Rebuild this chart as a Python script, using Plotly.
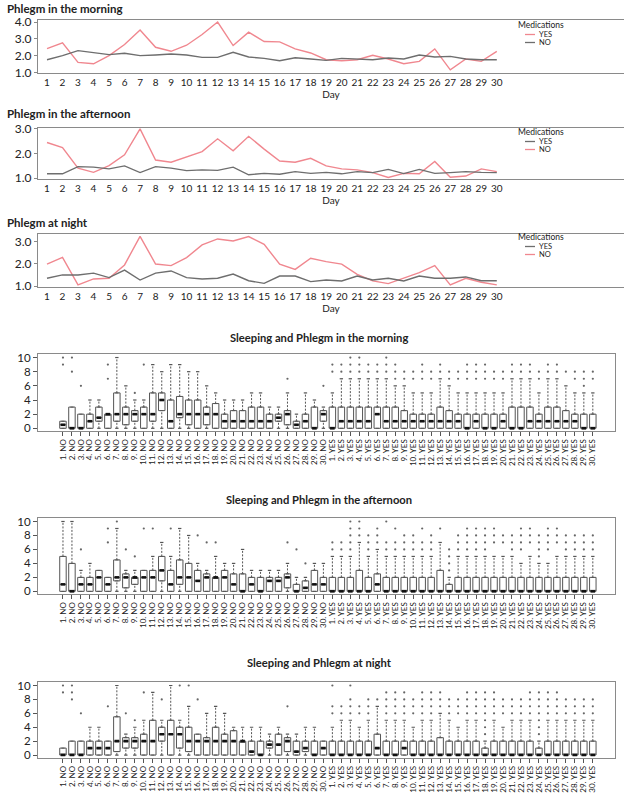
import plotly.graph_objects as go

W, H = 624, 800
FONT = "Lato"
TXT = "#222222"
PINK = "#F0878F"
GRAY = "#6E6E6E"
FRAME = "#8A8A8A"

# ---------------- line-chart data ----------------
days = list(range(1, 31))

morning_yes = [2.42, 2.76, 1.6, 1.52, 2.0, 2.66, 3.52, 2.5, 2.26, 2.62, 3.26, 4.0, 2.6, 3.4, 2.84,
               2.82, 2.4, 2.16, 1.76, 1.7, 1.76, 2.02, 1.8, 1.52, 1.66, 2.4, 1.16, 1.8, 1.66, 2.26]
morning_no = [1.76, 2.0, 2.3, 2.2, 2.06, 2.14, 2.0, 2.04, 2.1, 2.04, 1.9, 1.9, 2.2, 1.92, 1.84,
              1.7, 1.88, 1.8, 1.72, 1.84, 1.8, 1.76, 1.86, 1.8, 2.04, 1.92, 1.96, 1.8, 1.76, 1.76]

afternoon_no = [2.45, 2.24, 1.41, 1.24, 1.51, 1.95, 3.0, 1.74, 1.65, 1.88, 2.08, 2.6, 2.11, 2.7, 2.18,
                1.7, 1.65, 1.81, 1.5, 1.38, 1.34, 1.23, 1.03, 1.2, 1.18, 1.68, 1.04, 1.09, 1.38, 1.27]
afternoon_yes = [1.18, 1.18, 1.47, 1.45, 1.38, 1.5, 1.23, 1.47, 1.41, 1.31, 1.34, 1.32, 1.45, 1.14, 1.2,
                 1.16, 1.27, 1.2, 1.24, 1.18, 1.27, 1.23, 1.36, 1.19, 1.36, 1.2, 1.23, 1.27, 1.24, 1.23]

night_no = [1.99, 2.29, 1.05, 1.32, 1.35, 1.95, 3.24, 1.99, 1.92, 2.28, 2.85, 3.12, 3.03, 3.23, 2.88,
            1.98, 1.75, 2.25, 2.1, 1.99, 1.53, 1.23, 1.11, 1.35, 1.6, 1.92, 1.05, 1.35, 1.17, 1.05]
night_yes = [1.35, 1.5, 1.5, 1.58, 1.38, 1.72, 1.27, 1.58, 1.68, 1.38, 1.32, 1.35, 1.54, 1.24, 1.12,
             1.45, 1.45, 1.2, 1.27, 1.23, 1.45, 1.27, 1.35, 1.23, 1.45, 1.35, 1.35, 1.41, 1.24, 1.24]

# ---------------- box-plot data (30 NO days then 30 YES days) ----------------
cat_labels = [f"{d}. NO" for d in days] + [f"{d}. YES" for d in days]

m_q1 = [0, 0, 0, 0, 1, 0, 1, 0.5, 1, 0, 1, 2.5, 0, 1.5, 0.5, 0, 0.5, 0, 0, 0, 0, 0, 0, 0, 1, 0.5, 0, 0, 0, 1] + [0] * 30
m_med = [0.5, 0, 0, 1, 1.5, 2, 2, 2, 2, 2, 2, 4, 1, 2, 2, 2, 2, 2, 1, 1, 1, 1, 1, 1, 1.5, 2, 0.5, 1, 0, 2] + \
        [0, 1, 1, 1, 1, 2, 1, 1, 1, 1, 1, 1, 1, 1, 1, 0, 1, 0, 0, 1, 0, 0, 1, 1, 1, 1, 1, 1, 0, 0]
m_q3 = [1, 3, 2, 2, 3, 2, 5, 3, 2.5, 3, 5, 5, 4, 4.5, 4, 4, 3, 3.5, 2, 2.5, 2.5, 3, 3, 2, 2, 2.5, 1, 2, 3, 2.5] + \
       [3, 3, 3, 3, 3, 3, 3, 3, 2.5, 2, 2, 2, 3, 2.5, 2, 2, 2, 2, 2, 2, 3, 3, 3, 2, 3, 3, 2.5, 2, 2, 2]
m_lo = [0] * 60
m_hi = [1, 3, 2, 4, 4, 2, 10, 6, 4, 4, 9, 8, 9, 9, 8, 8, 6, 5, 4, 4, 4, 5, 5, 3, 3, 5, 2, 5, 4, 3] + \
       [5, 7, 7, 7, 7, 7, 7, 6, 6, 5, 5, 5, 7, 6, 5, 5, 5, 5, 5, 5, 7, 7, 7, 5, 7, 7, 6, 5, 5, 5]
m_out = [[9, 10], [8, 10], [6], [], [], [7, 9], [], [], [5], [9], [], [], [], [], [], [], [], [], [], [],
         [], [], [], [], [], [7], [], [], [], [6]] + \
        [[8, 9], [8, 9], [8, 9, 10], [8, 9, 10], [8, 9], [8, 9], [8, 9, 10], [7, 8, 9], [7, 8], [7, 8],
         [7, 8, 9], [7, 8], [8, 9], [7, 8], [7, 8], [7, 8, 9], [7, 8, 9], [7, 8, 9], [7, 8], [7, 8],
         [8, 9], [8, 9], [8, 9], [7, 8], [8, 9], [8, 9], [8], [7, 8], [6, 7, 8], [7, 8]]

a_q1 = [0, 0, 0, 0, 0, 0, 1.5, 0.5, 1, 0, 0, 1.5, 0, 1, 0, 0, 0, 0, 0, 0, 0, 0, 0, 0, 0, 0.5, 0, 0, 0, 0] + [0] * 30
a_med = [1, 0, 1, 1, 2, 1, 2, 2, 2, 2, 2, 3, 1, 2, 2, 1.5, 2, 2, 2, 1, 0, 1, 0, 1.5, 1.5, 2, 0, 0.5, 1, 1] + \
        [0, 0, 0, 0, 0, 1, 0, 0, 0, 0, 0, 0, 0, 0, 0, 0, 0, 0, 0, 0, 0, 0, 0, 0, 0, 0, 0, 0, 0, 0]
a_q3 = [5, 4, 2, 2, 3, 2, 4.5, 2.5, 2, 3, 3, 5, 3, 4.5, 4, 3, 2.5, 2, 3, 2.5, 2.5, 2, 2, 2, 2, 2.5, 1, 1.5, 3, 2] + \
       [2, 2, 2, 3, 2, 2.5, 2, 2, 2, 2, 2, 2, 3, 1, 2, 2, 2, 2, 2, 2, 2, 2, 2, 2, 2, 2, 2, 2, 2, 2]
a_lo = [0] * 60
a_hi = [10, 10, 3, 4, 3, 2, 9, 3, 3, 3, 5, 7, 5, 9, 8, 4, 3, 5, 4, 4, 6, 3, 3, 3, 3, 4, 2, 2, 4, 4] + \
       [5, 5, 5, 7, 5, 6, 5, 5, 5, 5, 5, 5, 7, 2, 5, 5, 5, 5, 5, 5, 5, 4, 5, 4, 4, 5, 5, 5, 5, 5]
a_out = [[], [], [6], [], [], [7, 9], [10], [6], [5], [9], [9], [], [9], [], [], [8], [7], [7], [], [],
         [], [], [], [], [], [7], [6], [4], [], []] + \
        [[6, 7], [6, 7], [6, 7, 8, 9, 10], [8, 9, 10], [6, 7, 8], [7, 8, 9], [6, 7, 10], [6, 7, 9], [6, 7, 8], [6, 7, 8],
         [6, 7, 9], [6, 7, 8], [9], [3, 4, 5, 6], [6, 7, 8], [6, 7, 8, 9], [6, 7, 8, 9], [6, 7, 8, 9], [7, 8, 9], [7, 8],
         [6, 7, 8], [6, 7, 8, 9], [7, 8, 9], [5, 6, 7, 8], [6, 7, 8, 9], [7, 8, 9], [6, 7, 8], [6, 7, 8], [6, 7, 8], [6, 7, 8]]

n_q1 = [0, 0, 0, 0, 0, 0, 0.5, 1, 1, 0, 0, 2, 0, 1, 0.5, 0, 0, 0, 0, 0, 0, 0, 0, 1, 0, 0.5, 0, 0.5, 0, 0] + [0] * 30
n_med = [0, 0, 0, 1, 1, 1, 2, 2, 2, 2, 2, 3, 3, 3, 2, 2, 2, 2, 2, 2, 2, 0.5, 0, 1.5, 1.5, 2, 0.5, 1, 0, 1] + \
        [0, 0, 0, 0, 0, 1, 0, 0, 1, 0, 0, 0, 0, 0, 0, 0, 0, 0, 0, 0, 0, 0, 0, 0, 0, 0, 0, 0, 0, 0]
n_q3 = [1, 2, 2, 2, 2, 2, 5.5, 2.5, 2.5, 3, 5, 4, 5, 4, 4, 3, 2.5, 4, 3, 3.5, 2, 2, 2, 2, 3, 2.5, 2, 2, 2, 2] + \
       [2, 2, 2, 2, 2, 3, 2, 2, 2, 2, 2, 2, 2.5, 2, 2, 2, 2, 1, 2, 2, 2, 2, 2, 1, 2, 2, 2, 2, 2, 2]
n_lo = [0] * 60
n_hi = [1, 2, 2, 4, 4, 2, 10, 3, 4, 5, 9, 5, 10, 5, 7, 3, 6, 7, 6, 4, 4, 4, 4, 3, 4, 3, 3, 4, 4, 2] + \
       [4, 5, 5, 4, 5, 7, 5, 5, 5, 4, 5, 5, 6, 5, 4, 5, 5, 2, 5, 4, 5, 5, 5, 2, 5, 5, 5, 5, 5, 5]
n_out = [[9, 10], [8, 9, 10], [6], [], [], [7], [], [6], [5], [9], [], [8], [], [10], [10], [8], [], [], [], [],
         [], [], [], [], [], [7], [], [], [], []] + \
        [[6, 7, 10], [6, 7], [6, 7, 8, 10], [6, 7], [6, 7, 8], [8], [6, 7, 8, 9], [6, 7, 8, 9], [6, 7, 8, 9], [6, 7, 8],
         [6, 7, 8, 9], [6, 7, 8, 9], [7, 8, 9], [6, 7, 8], [6, 7, 8], [6, 7, 8, 9], [6, 7, 8, 9], [3, 4, 5, 6, 7, 8, 9],
         [6, 7, 8, 9], [6, 7, 8], [6, 7, 8], [6, 7, 8], [6, 7, 8, 9], [3, 4, 5, 6, 7, 8, 9], [6, 7, 8, 9], [6, 7, 8, 9],
         [6, 7, 8], [6, 7, 8], [6, 7, 8], [6, 7, 8]]


def fx(px):
    return px / W


def fy(py):
    return 1 - py / H


fig = go.Figure()
annotations = []
shapes = []

# ---------------- line charts ----------------
line_specs = [
    (1, "Phlegm in the morning", morning_yes, "YES", morning_no, "NO", 20, 73, [0.97, 4.12], [1, 2, 3, 4], 8, 25),
    (2, "Phlegm in the afternoon", afternoon_no, "NO", afternoon_yes, "YES", 127.7, 179, [0.97, 3.05], [1, 2, 3], 114, 132),
    (3, "Phlegm at night", night_no, "NO", night_yes, "YES", 234.3, 286.7, [0.97, 3.33], [1, 2, 3], 222, 237),
]

for k, title, pink, pname, gray, gname, top, bot, yr, tv, ty, ly in line_specs:
    xa = "x" if k == 1 else f"x{k}"
    ya = "y" if k == 1 else f"y{k}"
    fig.add_trace(go.Scatter(x=days, y=pink, mode="lines", name=pname, showlegend=False,
                             line=dict(color=PINK, width=1.4), xaxis=xa, yaxis=ya))
    fig.add_trace(go.Scatter(x=days, y=gray, mode="lines", name=gname, showlegend=False,
                             line=dict(color=GRAY, width=1.4), xaxis=xa, yaxis=ya))
    xkey = "xaxis" if k == 1 else f"xaxis{k}"
    ykey = "yaxis" if k == 1 else f"yaxis{k}"
    fig.layout[xkey] = dict(
        domain=[fx(38), 1.0], anchor=ya, range=[0.42, 38.2],
        tickvals=days, ticktext=[str(d) for d in days], ticks="",
        tickfont=dict(family=FONT, size=10, color=TXT),
        showline=True, mirror=True, linecolor=FRAME, linewidth=1,
        showgrid=False, zeroline=False, automargin=False,
        title=dict(text="Day", font=dict(family=FONT, size=10, color=TXT), standoff=3),
    )
    fig.layout[ykey] = dict(
        domain=[fy(bot), fy(top)], anchor=xa, range=yr,
        tickvals=tv, tickformat=".1f", ticks="outside", ticklen=3, tickcolor=FRAME,
        tickfont=dict(family=FONT, size=12, color=TXT),
        showline=True, mirror=False, linecolor=FRAME, linewidth=1,
        showgrid=False, zeroline=False, automargin=False,
    )
    annotations.append(dict(text=f"<b>{title}</b>", x=fx(5), y=fy(ty), xref="paper", yref="paper",
                            xanchor="left", yanchor="middle", showarrow=False,
                            font=dict(family=FONT, size=11.5, color=TXT)))
    annotations.append(dict(text="Medications", x=fx(541), y=fy(ly), xref="paper", yref="paper",
                            xanchor="center", yanchor="middle", showarrow=False,
                            font=dict(family=FONT, size=8.5, color=TXT)))
    entries = [("YES", PINK if pname == "YES" else GRAY), ("NO", PINK if pname == "NO" else GRAY)]
    for j, (lab, col) in enumerate(entries):
        yy = ly + 9.5 + j * 8
        shapes.append(dict(type="line", xref="paper", yref="paper", x0=fx(525), x1=fx(535),
                           y0=fy(yy), y1=fy(yy), line=dict(color=col, width=1.3)))
        annotations.append(dict(text=lab, x=fx(537), y=fy(yy), xref="paper", yref="paper",
                                xanchor="left", yanchor="middle", showarrow=False,
                                font=dict(family=FONT, size=7.5, color=TXT)))

# ---------------- box charts ----------------
box_specs = [
    (4, "Sleeping and Phlegm in the morning", m_q1, m_med, m_q3, m_lo, m_hi, m_out, 354, 431, 337),
    (5, "Sleeping and Phlegm in the afternoon", a_q1, a_med, a_q3, a_lo, a_hi, a_out, 518, 594, 499),
    (6, "Sleeping and Phlegm at night", n_q1, n_med, n_q3, n_lo, n_hi, n_out, 682, 757.7, 662),
]
BOXLINE = "#555555"
for k, title, q1, med, q3, lo, hi, out, top, bot, ty in box_specs:
    xa, ya = f"x{k}", f"y{k}"
    fig.add_trace(go.Box(x=cat_labels, q1=q1, median=med, q3=q3, lowerfence=q1, upperfence=q3,
                         width=0.72, fillcolor="white", line=dict(color=BOXLINE, width=1),
                         boxpoints=False, showlegend=False, hoverinfo="skip", xaxis=xa, yaxis=ya))
    wx, wy, cx, cy = [], [], [], []
    for i, c in enumerate(cat_labels):
        if hi[i] > q3[i]:
            wx += [c, c, None]
            wy += [q3[i], hi[i], None]
            cx.append(c)
            cy.append(hi[i])
        if lo[i] < q1[i]:
            wx += [c, c, None]
            wy += [lo[i], q1[i], None]
            cx.append(c)
            cy.append(lo[i])
    fig.add_trace(go.Scatter(x=wx, y=wy, mode="lines", showlegend=False, hoverinfo="skip",
                             line=dict(color=BOXLINE, width=1, dash="2px,1.5px"), xaxis=xa, yaxis=ya))
    fig.add_trace(go.Scatter(x=cx, y=cy, mode="markers", showlegend=False, hoverinfo="skip",
                             marker=dict(symbol="line-ew", size=2.4, line=dict(color=BOXLINE, width=1.2)),
                             xaxis=xa, yaxis=ya))
    fig.add_trace(go.Scatter(x=cat_labels, y=med, mode="markers", showlegend=False, hoverinfo="skip",
                             marker=dict(symbol="line-ew", size=3.3, line=dict(color="#111111", width=2.6)),
                             xaxis=xa, yaxis=ya))
    ox, oy = [], []
    for i, c in enumerate(cat_labels):
        for v in out[i]:
            ox.append(c)
            oy.append(v)
    fig.add_trace(go.Scatter(x=ox, y=oy, mode="markers", showlegend=False, hoverinfo="skip",
                             marker=dict(symbol="circle", size=2.2, color="#666666"),
                             xaxis=xa, yaxis=ya))
    fig.layout[f"xaxis{k}"] = dict(
        domain=[fx(38), fx(615)], anchor=ya, type="category", range=[-2.78, 61.47],
        categoryorder="array", categoryarray=cat_labels,
        tickmode="array", tickvals=cat_labels, ticktext=cat_labels,
        tickangle=-90, ticks="outside", ticklen=4, tickcolor="#555555",
        tickfont=dict(family=FONT, size=8, color=TXT),
        showline=True, mirror=True, linecolor=FRAME, linewidth=1,
        showgrid=False, zeroline=False, automargin=False,
    )
    fig.layout[f"yaxis{k}"] = dict(
        domain=[fy(bot), fy(top)], anchor=xa, range=[-0.38, 10.5],
        tickvals=[0, 2, 4, 6, 8, 10], ticks="outside", ticklen=4, tickcolor="#555555",
        tickfont=dict(family=FONT, size=11.5, color=TXT),
        showline=True, mirror=True, linecolor=FRAME, linewidth=1,
        showgrid=False, zeroline=False, automargin=False,
    )
    annotations.append(dict(text=f"<b>{title}</b>", x=fx(319), y=fy(ty), xref="paper", yref="paper",
                            xanchor="center", yanchor="middle", showarrow=False,
                            font=dict(family=FONT, size=11.2, color=TXT)))

fig.update_layout(
    width=W, height=H, margin=dict(l=0, r=0, t=0, b=0),
    paper_bgcolor="white", plot_bgcolor="white",
    showlegend=False, annotations=annotations, shapes=shapes,
    font=dict(family=FONT, color=TXT),
)

fig.write_html("out.html", config={"displayModeBar": False},
               post_script="document.body.style.margin='0px';")
